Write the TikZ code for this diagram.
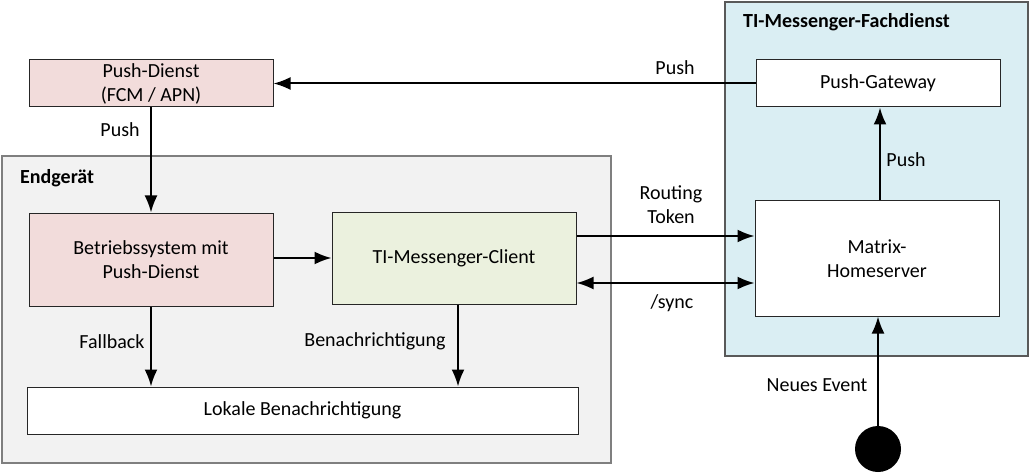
\documentclass[tikz,border=0pt]{standalone}
\usepackage{fontspec}
\setmainfont{Carlito}
\usetikzlibrary{arrows.meta,calc}
\definecolor{pinkfill}{HTML}{F2DCDB}
\definecolor{greenfill}{HTML}{EBF1DE}
\definecolor{bluefill}{HTML}{DAEEF3}
\definecolor{grayfill}{HTML}{F2F2F2}
\definecolor{grayline}{HTML}{7F7F7F}
\definecolor{darkline}{HTML}{595959}
\tikzset{
  box/.style={draw=black!85, line width=1pt, inner sep=0pt, align=center, minimum width=244pt},
  group/.style={line width=1.2pt, inner sep=0pt},
  arr/.style={-{Latex[length=17pt,width=13pt]}, line width=2pt},
  darr/.style={{Latex[length=17pt,width=13pt]}-{Latex[length=17pt,width=13pt]}, line width=2pt},
  lbl/.style={inner sep=0pt, align=center},
  grouplbl/.style={inner sep=0pt, anchor=west, font=\fontsize{20}{24}\selectfont\bfseries},
}
\begin{document}
\begin{tikzpicture}[x=1pt,y=-1pt,font=\fontsize{20}{24}\selectfont]
\useasboundingbox (0,0) rectangle (1030,473);
% groups
\node[group, draw=grayline, fill=grayfill, minimum width=609pt, minimum height=307pt] (EG) at (306.5,309.5) {};
\node[grouplbl] (EGl) at (20,178) {Endgerät};
\node[group, draw=darkline, fill=bluefill, minimum width=303pt, minimum height=354pt] (FD) at (876.5,179) {};
\node[grouplbl] (FDl) at (743,22) {TI-Messenger-Fachdienst};
% boxes
\node[box, fill=pinkfill, minimum height=47pt] (PD) at (151,83.5) {Push-Dienst\\(FCM / APN)};
\node[box, fill=white, minimum height=47pt] (PG) at (878,83.5) {Push-Gateway};
\node[box, fill=pinkfill, minimum height=93pt] (BS) at (151,259.5) {Betriebssystem mit\\Push-Dienst};
\node[box, fill=greenfill, minimum height=92pt] (CL) at (454,258) {TI-Messenger-Client};
\node[box, fill=white, minimum height=115pt] (HS) at (877,258.5) {Matrix-\\Homeserver};
\node[box, fill=white, minimum width=551pt, minimum height=47pt] (LB) at (302.5,410.5) {Lokale Benachrichtigung};
\node[circle, fill=black, minimum size=46pt, inner sep=0pt] (EV) at (878,449) {};
% helper coordinates
\coordinate (c1) at ($(CL.south)+(4,0)$);
\coordinate (c2) at ($(CL.east)+(0,-22)$);
\coordinate (c3) at ($(CL.east)+(0,25)$);
\coordinate (c4) at ($(HS.north)+(3,0)$);
% connectors
\draw[arr] (PG.west) -- (PD.east);
\draw[arr] (PD.south) -- (BS.north);
\draw[arr] (BS.east |- CL.east) -- (CL.west);
\draw[arr] (c2) -- (c2 -| HS.west);
\draw[darr] (c3) -- (c3 -| HS.west);
\draw[arr] (BS.south) -- (BS.south |- LB.north);
\draw[arr] (c1) -- (c1 |- LB.north);
\draw[arr] (c4) -- (c4 |- PG.south);
\draw[arr] (EV.north) -- (EV.north |- HS.south);
% labels
\node[lbl] (l1) at (675,68) {Push};
\node[lbl] (l2) at (120,130) {Push};
\node[lbl] (l3) at (906,160) {Push};
\node[lbl] (l4) at (671,205) {Routing\\Token};
\node[lbl] (l5) at (672,303) {/sync};
\node[lbl] (l6) at (112,342) {Fallback};
\node[lbl] (l7) at (375,341) {Benachrichtigung};
\node[lbl] (l8) at (817,385) {Neues Event};
\end{tikzpicture}
\end{document}
